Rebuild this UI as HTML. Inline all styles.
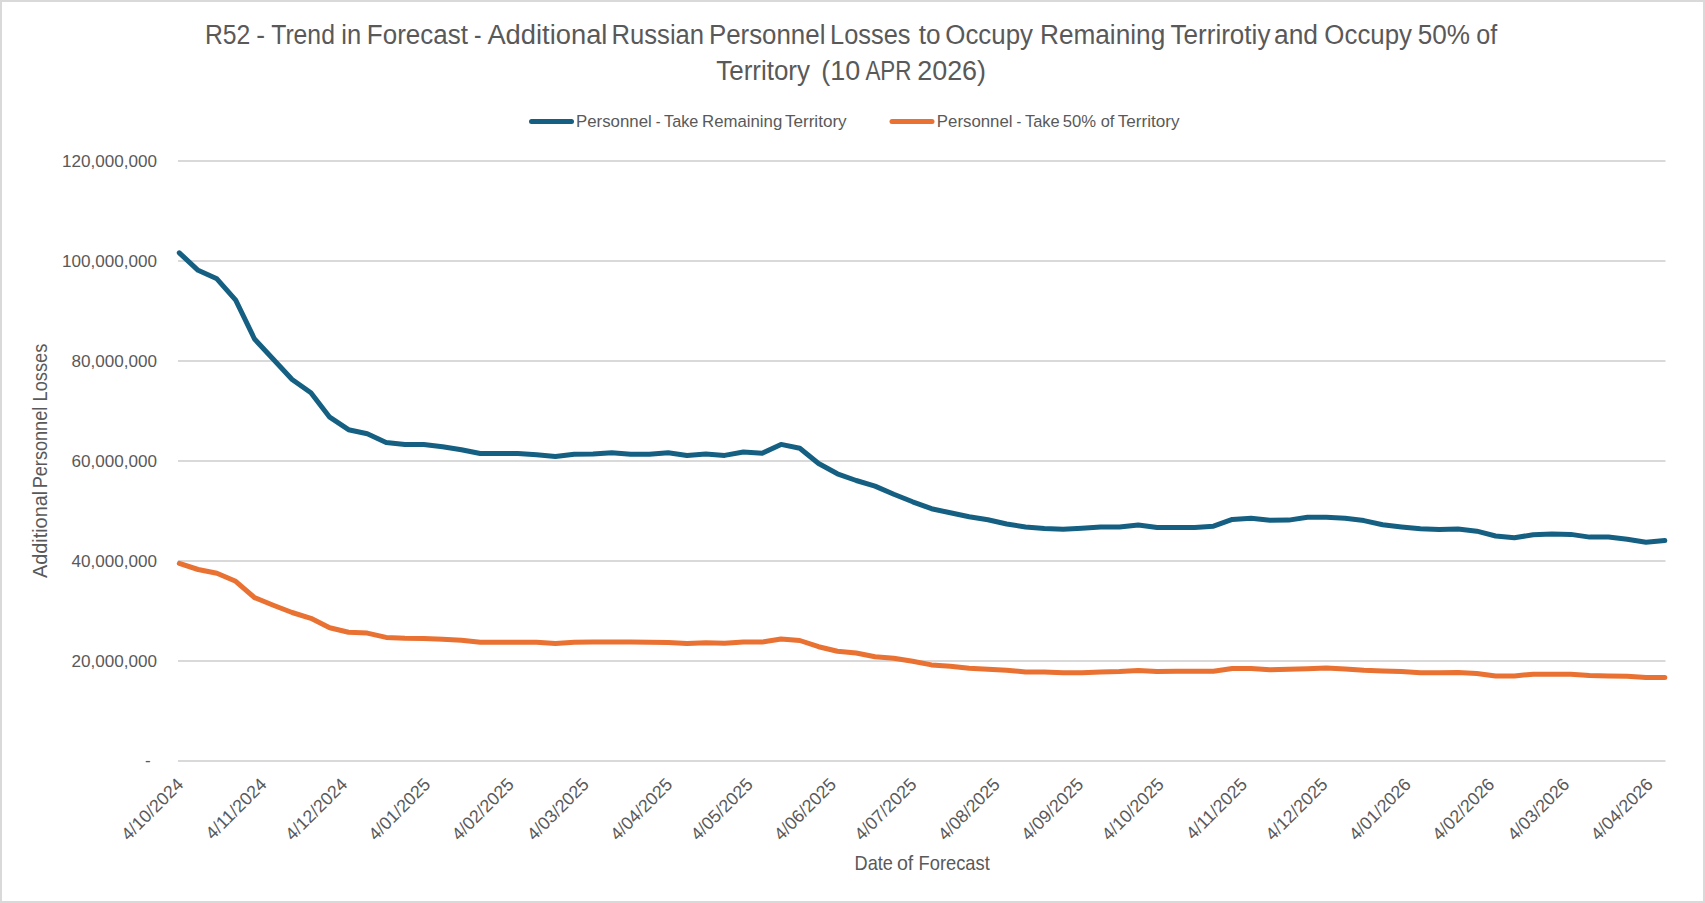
<!DOCTYPE html>
<html><head><meta charset="utf-8">
<style>
html,body{margin:0;padding:0;background:#fff;}
body{width:1705px;height:903px;overflow:hidden;position:relative;}
svg{position:absolute;left:0;top:0;}
text{font-family:"Liberation Sans", sans-serif;fill:#595959;}
</style></head><body>
<svg width="1705" height="903" viewBox="0 0 1705 903">
<rect x="1" y="1" width="1703" height="901" fill="#fff" stroke="#d9d9d9" stroke-width="2"/>
<text x="204.97" y="44" font-size="27.0" textLength="45.42" lengthAdjust="spacingAndGlyphs" xml:space="preserve">R52</text>
<text x="256.13" y="44" font-size="27.0" textLength="8.74" lengthAdjust="spacingAndGlyphs" xml:space="preserve">-</text>
<text x="271.20" y="44" font-size="27.0" textLength="63.70" lengthAdjust="spacingAndGlyphs" xml:space="preserve">Trend</text>
<text x="341.25" y="44" font-size="27.0" textLength="19.91" lengthAdjust="spacingAndGlyphs" xml:space="preserve">in</text>
<text x="366.87" y="44" font-size="27.0" textLength="101.17" lengthAdjust="spacingAndGlyphs" xml:space="preserve">Forecast</text>
<text x="473.97" y="44" font-size="27.0" textLength="7.46" lengthAdjust="spacingAndGlyphs" xml:space="preserve">-</text>
<text x="487.40" y="44" font-size="27.0" textLength="120.01" lengthAdjust="spacingAndGlyphs" xml:space="preserve">Additional</text>
<text x="611.60" y="44" font-size="27.0" textLength="92.46" lengthAdjust="spacingAndGlyphs" xml:space="preserve">Russian</text>
<text x="708.88" y="44" font-size="27.0" textLength="116.54" lengthAdjust="spacingAndGlyphs" xml:space="preserve">Personnel</text>
<text x="830.12" y="44" font-size="27.0" textLength="80.41" lengthAdjust="spacingAndGlyphs" xml:space="preserve">Losses</text>
<text x="918.70" y="44" font-size="27.0" textLength="21.81" lengthAdjust="spacingAndGlyphs" xml:space="preserve">to</text>
<text x="945.24" y="44" font-size="27.0" textLength="87.82" lengthAdjust="spacingAndGlyphs" xml:space="preserve">Occupy</text>
<text x="1039.96" y="44" font-size="27.0" textLength="125.29" lengthAdjust="spacingAndGlyphs" xml:space="preserve">Remaining</text>
<text x="1170.50" y="44" font-size="27.0" textLength="99.93" lengthAdjust="spacingAndGlyphs" xml:space="preserve">Terrirotiy</text>
<text x="1274.02" y="44" font-size="27.0" textLength="44.01" lengthAdjust="spacingAndGlyphs" xml:space="preserve">and</text>
<text x="1324.34" y="44" font-size="27.0" textLength="87.72" lengthAdjust="spacingAndGlyphs" xml:space="preserve">Occupy</text>
<text x="1417.73" y="44" font-size="27.0" textLength="52.28" lengthAdjust="spacingAndGlyphs" xml:space="preserve">50%</text>
<text x="1476.27" y="44" font-size="27.0" textLength="21.00" lengthAdjust="spacingAndGlyphs" xml:space="preserve">of</text>
<text x="716.20" y="80" font-size="27.0" textLength="93.83" lengthAdjust="spacingAndGlyphs" xml:space="preserve">Territory</text>
<text x="821.30" y="80" font-size="27.0" textLength="38.93" lengthAdjust="spacingAndGlyphs" xml:space="preserve">(10</text>
<text x="865.40" y="80" font-size="27.0" textLength="46.17" lengthAdjust="spacingAndGlyphs" xml:space="preserve">APR</text>
<text x="917.20" y="80" font-size="27.0" textLength="68.86" lengthAdjust="spacingAndGlyphs" xml:space="preserve">2026)</text>
<line x1="531.5" y1="121.5" x2="571.5" y2="121.5" stroke="#156082" stroke-width="5" stroke-linecap="round"/>
<line x1="892" y1="121.5" x2="932" y2="121.5" stroke="#E97132" stroke-width="5" stroke-linecap="round"/>
<text x="575.97" y="126.8" font-size="16.3" textLength="75.77" lengthAdjust="spacingAndGlyphs" xml:space="preserve">Personnel</text>
<text x="655.80" y="126.8" font-size="16.3" textLength="4.77" lengthAdjust="spacingAndGlyphs" xml:space="preserve">-</text>
<text x="664.10" y="126.8" font-size="16.3" textLength="34.29" lengthAdjust="spacingAndGlyphs" xml:space="preserve">Take</text>
<text x="702.07" y="126.8" font-size="16.3" textLength="80.20" lengthAdjust="spacingAndGlyphs" xml:space="preserve">Remaining</text>
<text x="784.90" y="126.8" font-size="16.3" textLength="61.79" lengthAdjust="spacingAndGlyphs" xml:space="preserve">Territory</text>
<text x="936.87" y="126.8" font-size="16.3" textLength="75.67" lengthAdjust="spacingAndGlyphs" xml:space="preserve">Personnel</text>
<text x="1016.60" y="126.8" font-size="16.3" textLength="4.77" lengthAdjust="spacingAndGlyphs" xml:space="preserve">-</text>
<text x="1025.00" y="126.8" font-size="16.3" textLength="34.69" lengthAdjust="spacingAndGlyphs" xml:space="preserve">Take</text>
<text x="1062.68" y="126.8" font-size="16.3" textLength="33.33" lengthAdjust="spacingAndGlyphs" xml:space="preserve">50%</text>
<text x="1100.70" y="126.8" font-size="16.3" textLength="13.69" lengthAdjust="spacingAndGlyphs" xml:space="preserve">of</text>
<text x="1117.80" y="126.8" font-size="16.3" textLength="61.79" lengthAdjust="spacingAndGlyphs" xml:space="preserve">Territory</text>
<g stroke="#d9d9d9" stroke-width="2">
<line x1="178" y1="161" x2="1665.5" y2="161" />
<line x1="178" y1="261" x2="1665.5" y2="261" />
<line x1="178" y1="361" x2="1665.5" y2="361" />
<line x1="178" y1="461" x2="1665.5" y2="461" />
<line x1="178" y1="561" x2="1665.5" y2="561" />
<line x1="178" y1="661" x2="1665.5" y2="661" />
<line x1="178" y1="761" x2="1665.5" y2="761" />
</g>
<g font-size="17.1">
<text x="157" y="167" text-anchor="end">120,000,000</text>
<text x="157" y="267" text-anchor="end">100,000,000</text>
<text x="157" y="367" text-anchor="end">80,000,000</text>
<text x="157" y="467" text-anchor="end">60,000,000</text>
<text x="157" y="567" text-anchor="end">40,000,000</text>
<text x="157" y="667" text-anchor="end">20,000,000</text>
<text x="150.8" y="766" text-anchor="end">-</text>
</g>
<g font-size="17.8">
<text transform="translate(184.5,785.5) rotate(-45)" text-anchor="end">4/10/2024</text>
<text transform="translate(267.8,785.5) rotate(-45)" text-anchor="end">4/11/2024</text>
<text transform="translate(348.4,785.5) rotate(-45)" text-anchor="end">4/12/2024</text>
<text transform="translate(431.6,785.5) rotate(-45)" text-anchor="end">4/01/2025</text>
<text transform="translate(514.9,785.5) rotate(-45)" text-anchor="end">4/02/2025</text>
<text transform="translate(590.1,785.5) rotate(-45)" text-anchor="end">4/03/2025</text>
<text transform="translate(673.4,785.5) rotate(-45)" text-anchor="end">4/04/2025</text>
<text transform="translate(754.0,785.5) rotate(-45)" text-anchor="end">4/05/2025</text>
<text transform="translate(837.3,785.5) rotate(-45)" text-anchor="end">4/06/2025</text>
<text transform="translate(917.8,785.5) rotate(-45)" text-anchor="end">4/07/2025</text>
<text transform="translate(1001.1,785.5) rotate(-45)" text-anchor="end">4/08/2025</text>
<text transform="translate(1084.4,785.5) rotate(-45)" text-anchor="end">4/09/2025</text>
<text transform="translate(1165.0,785.5) rotate(-45)" text-anchor="end">4/10/2025</text>
<text transform="translate(1248.3,785.5) rotate(-45)" text-anchor="end">4/11/2025</text>
<text transform="translate(1328.8,785.5) rotate(-45)" text-anchor="end">4/12/2025</text>
<text transform="translate(1412.1,785.5) rotate(-45)" text-anchor="end">4/01/2026</text>
<text transform="translate(1495.4,785.5) rotate(-45)" text-anchor="end">4/02/2026</text>
<text transform="translate(1570.6,785.5) rotate(-45)" text-anchor="end">4/03/2026</text>
<text transform="translate(1653.9,785.5) rotate(-45)" text-anchor="end">4/04/2026</text>
</g>
<g transform="translate(47.2,0) rotate(-90)">
<text x="-578.10" y="0" font-size="19.8" textLength="87.29" lengthAdjust="spacingAndGlyphs" xml:space="preserve">Additional</text>
<text x="-488.32" y="0" font-size="19.8" textLength="81.60" lengthAdjust="spacingAndGlyphs" xml:space="preserve">Personnel</text>
<text x="-401.42" y="0" font-size="19.8" textLength="57.65" lengthAdjust="spacingAndGlyphs" xml:space="preserve">Losses</text>
</g>
<text x="854.58" y="869.8" font-size="19.8" textLength="38.35" lengthAdjust="spacingAndGlyphs" xml:space="preserve">Date</text>
<text x="896.91" y="869.8" font-size="19.8" textLength="16.40" lengthAdjust="spacingAndGlyphs" xml:space="preserve">of</text>
<text x="918.58" y="869.8" font-size="19.8" textLength="71.18" lengthAdjust="spacingAndGlyphs" xml:space="preserve">Forecast</text>
<polyline fill="none" stroke="#156082" stroke-width="5" stroke-linejoin="round" stroke-linecap="round" points="179.3,252.8 198.1,270.3 216.9,278.8 235.7,300.2 254.5,339.0 273.3,359.3 292.1,379.5 310.9,392.8 329.7,417.2 348.5,429.7 367.3,433.7 386.1,442.4 404.9,444.4 423.7,444.4 442.6,446.7 461.4,449.7 480.2,453.5 499.0,453.5 517.8,453.5 536.6,454.8 555.4,456.6 574.2,454.3 593.0,453.9 611.8,452.8 630.6,454.3 649.4,454.3 668.2,452.8 687.0,455.4 705.8,453.9 724.6,455.4 743.4,452.0 762.2,453.2 781.0,444.4 799.8,448.2 818.6,463.5 837.4,473.8 856.2,480.5 875.0,486.1 893.8,494.2 912.6,501.8 931.5,508.7 950.3,512.8 969.1,516.8 987.9,519.8 1006.7,524.0 1025.5,527.0 1044.3,528.5 1063.1,529.3 1081.9,528.2 1100.7,527.1 1119.5,527.0 1138.3,524.9 1157.1,527.4 1175.9,527.4 1194.7,527.4 1213.5,526.2 1232.3,519.4 1251.1,518.3 1269.9,520.3 1288.7,520.1 1307.5,517.2 1326.3,517.2 1345.1,518.3 1363.9,520.6 1382.7,524.8 1401.5,526.9 1420.4,528.8 1439.2,529.6 1458.0,529.1 1476.8,531.2 1495.6,536.0 1514.4,537.7 1533.2,534.7 1552.0,534.0 1570.8,534.4 1589.6,537.1 1608.4,537.1 1627.2,539.3 1646.0,542.3 1664.8,540.5"/>
<polyline fill="none" stroke="#E97132" stroke-width="5" stroke-linejoin="round" stroke-linecap="round" points="179.3,563.4 198.1,569.5 216.9,573.2 235.7,581.3 254.5,597.6 273.3,605.2 292.1,612.5 310.9,618.3 329.7,627.8 348.5,632.3 367.3,633.1 386.1,637.4 404.9,638.3 423.7,638.4 442.6,639.3 461.4,640.2 480.2,642.3 499.0,642.3 517.8,642.3 536.6,642.3 555.4,643.5 574.2,642.3 593.0,642.0 611.8,642.0 630.6,642.0 649.4,642.2 668.2,642.4 687.0,643.6 705.8,642.8 724.6,643.2 743.4,641.9 762.2,642.1 781.0,639.0 799.8,640.5 818.6,646.7 837.4,651.2 856.2,653.0 875.0,656.8 893.8,658.3 912.6,661.3 931.5,664.9 950.3,666.2 969.1,668.2 987.9,669.3 1006.7,670.2 1025.5,671.9 1044.3,671.9 1063.1,672.8 1081.9,672.8 1100.7,671.9 1119.5,671.6 1138.3,670.5 1157.1,671.6 1175.9,671.3 1194.7,671.3 1213.5,671.3 1232.3,668.5 1251.1,668.5 1269.9,669.7 1288.7,669.3 1307.5,668.8 1326.3,667.9 1345.1,668.9 1363.9,670.2 1382.7,671.0 1401.5,671.6 1420.4,672.7 1439.2,672.7 1458.0,672.6 1476.8,673.4 1495.6,676.0 1514.4,675.9 1533.2,674.2 1552.0,674.2 1570.8,674.2 1589.6,675.5 1608.4,675.9 1627.2,676.2 1646.0,677.4 1664.8,677.4"/>
</svg>
</body></html>
